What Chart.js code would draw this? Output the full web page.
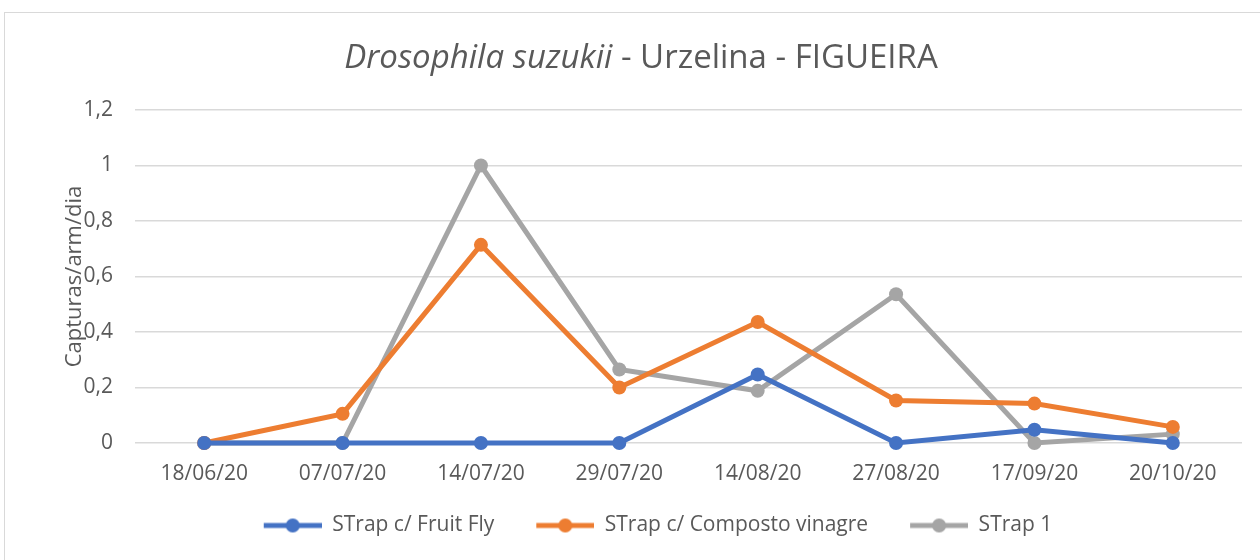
<!DOCTYPE html>
<html><head><meta charset="utf-8">
<script src="https://cdn.jsdelivr.net/npm/chart.js@4/dist/chart.umd.min.js"></script>
<style>
html,body{margin:0;padding:0;background:#fff;}
#wrap{position:relative;width:1260px;height:560px;overflow:hidden;}
#frame{position:absolute;left:4px;top:12px;width:1270px;height:560px;border:1px solid #d9d9d9;box-sizing:border-box;}
#title{position:absolute;left:0;width:1282px;top:33px;text-align:center;font-family:"Open Sans",sans-serif;font-size:33px;color:#595959;}
canvas{position:absolute;left:0;top:0;}
</style></head><body>
<div id="wrap">
<div id="frame"></div>
<canvas id="c" width="1260" height="560"></canvas>
<div id="title"><i>Drosophila suzukii</i> - Urzelina - FIGUEIRA</div>
</div>
<script>
const categories = ["18/06/20","07/07/20","14/07/20","29/07/20","14/08/20","27/08/20","17/09/20","20/10/20"];
const fruitFly = [0, 0, 0, 0, 0.247, 0, 0.048, 0];
const compostoVinagre = [0, 0.105, 0.714, 0.2, 0.436, 0.153, 0.142, 0.058];
const strap1 = [0, 0, 1, 0.265, 0.188, 0.536, 0, 0.032];
const seriesNames = ["STrap c/ Fruit Fly","STrap c/ Composto vinagre","STrap 1"];
const colors = ["#4472C4","#ED7D31","#A5A5A5"];
const yTicks = [0,0.2,0.4,0.6,0.8,1,1.2];

function legendIcon(color){
  const c=document.createElement('canvas'); c.width=70; c.height=16;
  const g=c.getContext('2d');
  g.strokeStyle=color; g.lineWidth=5; g.beginPath(); g.moveTo(12,8); g.lineTo(70,8); g.stroke();
  g.fillStyle=color; g.beginPath(); g.arc(41,8,7,0,Math.PI*2); g.fill();
  return c;
}
const FONT = "'Open Sans', sans-serif";
const TXT = "#595959";
const data = [fruitFly, compostoVinagre, strap1];
new Chart(document.getElementById('c'), {
  type:'line',
  data:{
    labels:categories,
    datasets:data.map((d,i)=>({
      label:seriesNames[i], data:d, borderColor:colors[i], backgroundColor:colors[i],
      borderWidth:5, pointRadius:7, pointHoverRadius:7, pointBorderWidth:0, tension:0,
      pointStyle:'circle', clip:false
    }))
  },
  options:{
    responsive:false, animation:false,
    layout:{padding:{top:110,right:18,left:62,bottom:14}},
    plugins:{
      title:{display:false},
      tooltip:{enabled:false},
      legend:{position:'bottom',
        labels:{usePointStyle:true,pointStyleWidth:70,padding:30,color:TXT,font:{family:FONT,size:21},
          generateLabels:(chart)=>chart.data.datasets.map((ds,i)=>({text:ds.label,fillStyle:colors[i],strokeStyle:colors[i],lineWidth:0,pointStyle:legendIcon(colors[i]),datasetIndex:i,fontColor:TXT}))
        }}
    },
    scales:{
      x:{
        offset:true,
        grid:{display:false,drawTicks:false,offset:true},
        border:{display:false},
        ticks:{color:TXT,font:{family:FONT,size:21},padding:18,maxRotation:0},
        afterFit:(s)=>{s.height=42;}
      },
      y:{
        min:0,max:1.2,
        afterBuildTicks:(s)=>{s.ticks=yTicks.map(v=>({value:v}));},
        grid:{color:'#d9d9d9',lineWidth:1.5,drawTicks:false},
        border:{display:false},
        ticks:{color:TXT,font:{family:FONT,size:21},padding:22,callback:(v)=>String(v).replace('.',',')},
        title:{display:true,text:'Capturas/arm/dia',color:TXT,font:{family:FONT,size:22},padding:0},
        afterFit:(s)=>{s.width=73;}
      }
    }
  }
});
</script>
</body></html>
